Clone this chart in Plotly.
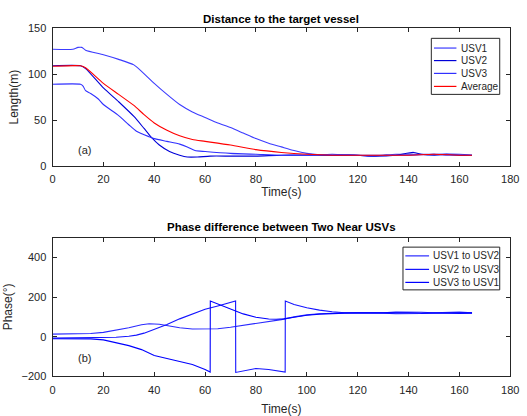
import plotly.graph_objects as go

# ---------- (a) Distance to the target vessel ----------
t_usv1 = [0, 8, 10, 11.5, 13, 20, 26, 32, 35, 40, 45, 50, 55, 60, 65, 70, 75, 80, 85, 90, 95, 100, 105, 110, 115, 120, 125, 130, 135, 140, 145, 150, 155, 160, 165]
d_usv1 = [127, 127, 129, 129, 126, 121, 116, 110, 103, 90, 78, 67, 59, 53, 47, 42, 36, 30, 25, 21, 17, 14, 12.5, 12, 12, 12, 11, 12, 13, 13, 13, 13, 12, 12, 12]

t_usv2 = [0, 11, 13, 20, 26, 32, 36, 39, 42, 46, 50, 53, 57, 62, 70, 80, 90, 100, 110, 120, 127, 135, 142, 145, 150, 155, 160, 165]
d_usv2 = [109, 109, 106, 85, 70, 54, 41, 31, 23, 16, 12, 10, 10, 11, 11, 11, 12, 12, 12, 12, 11, 12, 15, 13, 12, 13, 12, 12]

t_usv3 = [0, 11, 12, 13, 15, 18, 20, 26, 30, 33, 38, 40, 45, 50, 53, 56, 60, 70, 80, 90, 100, 110, 120, 130, 140, 150, 160, 165]
d_usv3 = [89, 89, 87, 82, 79, 73, 67, 55, 45, 38, 32, 30, 27, 24, 21, 17, 16, 14, 13, 12, 12, 13, 12, 12, 12, 13, 13, 12]

t_avg = [0, 11, 13, 20, 26, 32, 36, 40, 45, 50, 55, 60, 70, 80, 90, 100, 110, 120, 130, 140, 150, 160, 165]
d_avg = [108.5, 109, 107, 90, 78, 66, 56, 47, 39, 33, 29, 27, 23, 18, 15, 13, 12, 12, 12, 12, 13, 12, 12]

# ---------- (b) Phase difference between two near USVs ----------
t_p12 = [0, 10, 15, 20, 25, 30, 35, 38, 42, 46, 50, 55, 60, 65, 70, 75, 80, 85, 90, 95, 100, 105, 110, 115, 120, 125, 130, 135, 140, 145, 150, 155, 160, 165]
p_p12 = [13, 14, 16, 22, 32, 45, 60, 65, 63, 54, 45, 39, 38, 40, 48, 57, 66, 75, 86, 100, 110, 116, 119, 120, 120, 121, 119, 116, 115, 117, 120, 123, 124, 121]

t_p23 = [0, 15, 20, 25, 30, 33, 36, 40, 45, 50, 55, 60, 65, 70, 72, 72.05, 75, 80, 85, 91.5, 91.55, 95, 100, 105, 110, 115, 120, 125, 130, 135, 140, 145, 150, 155, 160, 165]
p_p23 = [-7, -6, -5, -3, 2, 8, 18, 36, 62, 90, 115, 138, 155, 172, 180, -180, -172, -160, -165, -178, 180, 162, 146, 134, 126, 121, 120, 119, 121, 124, 125, 123, 121, 118, 117, 119]

t_p31 = [0, 15, 20, 25, 30, 35, 40, 45, 50, 55, 60, 62, 62.05, 65, 70, 75, 80, 85, 88, 91, 95, 100, 105, 110, 115, 120, 125, 130, 135, 140, 145, 150, 155, 160, 165]
p_p31 = [-10, -11, -16, -30, -45, -65, -95, -110, -125, -140, -165, -178, 180, 165, 140, 115, 98, 89, 88, 90, 98, 108, 114, 118, 119, 120, 120, 120, 123, 120, 118, 119, 119, 119, 120]

legend_a = ["USV1", "USV2", "USV3", "Average"]
legend_b = ["USV1 to USV2", "USV2 to USV3", "USV3 to USV1"]
colors_a = ["#3c3cff", "#0000d8", "#3030ff", "#ff0000"]
colors_b = ["#2a2aff", "#1414ff", "#0000ff"]

FONT = "Liberation Sans, Arial, sans-serif"
AX = "#262626"
W, H = 527, 416

fig = go.Figure()
for tt, vv, name, col in zip([t_usv1, t_usv2, t_usv3, t_avg], [d_usv1, d_usv2, d_usv3, d_avg], legend_a, colors_a):
    fig.add_trace(go.Scatter(x=tt, y=vv, name=name, mode="lines", line=dict(color=col, width=1.1, shape="spline", smoothing=0.6),
                             xaxis="x", yaxis="y", showlegend=False))
for tt, vv, name, col in zip([t_p12, t_p23, t_p31], [p_p12, p_p23, p_p31], legend_b, colors_b):
    fig.add_trace(go.Scatter(x=tt, y=vv, name=name, mode="lines", line=dict(color=col, width=1.1),
                             xaxis="x2", yaxis="y2", showlegend=False))

xd = [50.7 / W, 519 / W]
yd_top = [1 - 165 / H, 1 - 22.7 / H]
yd_bot = [1 - 381.4 / H, 1 - 238.4 / H]

axis_common = dict(showline=True, linecolor=AX, linewidth=1, mirror="ticks", ticks="inside",
                   ticklen=4, tickcolor=AX, showgrid=False, zeroline=False, ticklabelstandoff=3,
                   ticklabeloverflow="allow",
                   tickfont=dict(family=FONT, size=11, color=AX))
title_font = dict(family=FONT, size=12, color=AX)

shapes = []
annotations = [
    dict(text="<b>Distance to the target vessel</b>", x=(xd[0] + xd[1]) / 2, y=1 - 13 / H, yanchor="middle",
         xref="paper", yref="paper", showarrow=False, font=dict(family=FONT, size=11.5, color="black")),
    dict(text="<b>Phase difference between Two Near USVs</b>", x=(xd[0] + xd[1]) / 2, y=1 - 228 / H, yanchor="middle",
         xref="paper", yref="paper", showarrow=False, font=dict(family=FONT, size=11.5, color="black")),
    dict(text="(a)", x=12.4, y=18, xref="x", yref="y", showarrow=False, font=dict(family=FONT, size=11, color=AX)),
    dict(text="(b)", x=12.4, y=-107, xref="x2", yref="y2", showarrow=False, font=dict(family=FONT, size=11, color=AX)),
]


def px_x(p):
    return p / W


def px_y(p):
    return 1 - p / H


def add_legend(box, names, cols, rows_y, line_x0, line_x1, text_x):
    x0, y0, x1, y1 = box
    shapes.append(dict(type="rect", xref="paper", yref="paper", x0=px_x(x0), x1=px_x(x1), y0=px_y(y1), y1=px_y(y0),
                       line=dict(color=AX, width=1), fillcolor="white", layer="above"))
    for name, col, ry in zip(names, cols, rows_y):
        shapes.append(dict(type="line", xref="paper", yref="paper", x0=px_x(line_x0), x1=px_x(line_x1),
                           y0=px_y(ry), y1=px_y(ry), line=dict(color=col, width=1.2), layer="above"))
        annotations.append(dict(text=name, x=px_x(text_x), y=px_y(ry), xref="paper", yref="paper",
                                xanchor="left", yanchor="middle", showarrow=False,
                                font=dict(family=FONT, size=10, color=AX)))


add_legend((438.3, 33.3, 508.3, 91), legend_a, colors_a, [43.3, 56.2, 69.4, 82.8], 441, 464, 466.5)
add_legend((409.3, 248.3, 508.3, 292.3), legend_b, colors_b, [257.3, 271.2, 284.6], 411.7, 436, 437.5)

fig.update_layout(
    width=W, height=H, margin=dict(l=0, r=0, t=0, b=0),
    paper_bgcolor="white", plot_bgcolor="white",
    font=dict(family=FONT, size=11, color=AX),
    showlegend=False,
    xaxis=dict(domain=xd, anchor="y", range=[0, 180], dtick=20, **axis_common,
               title=dict(text="Time(s)", font=title_font, standoff=3)),
    yaxis=dict(domain=yd_top, anchor="x", range=[0, 150], dtick=50, **axis_common,
               title=dict(text="Length(m)", font=title_font, standoff=6)),
    xaxis2=dict(domain=xd, anchor="y2", range=[0, 180], dtick=20, **axis_common,
                title=dict(text="Time(s)", font=title_font, standoff=10)),
    yaxis2=dict(domain=yd_bot, anchor="x2", range=[-200, 500], dtick=200, **axis_common,
                title=dict(text="Phase(°)", font=title_font, standoff=6)),
    shapes=shapes,
    annotations=annotations,
)

fig.write_html("out.html")
